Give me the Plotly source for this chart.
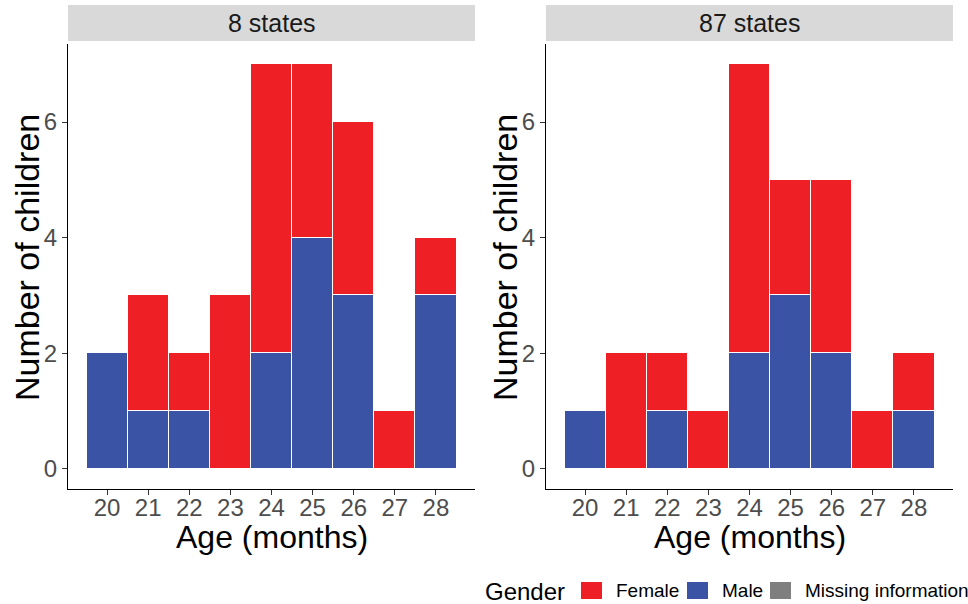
import plotly.graph_objects as go

ages = [20, 21, 22, 23, 24, 25, 26, 27, 28]
panels = ["8 states", "87 states"]

male_8 = [2, 1, 1, 0, 2, 4, 3, 0, 3]
female_8 = [0, 2, 1, 3, 5, 3, 3, 1, 1]
male_87 = [1, 0, 1, 0, 2, 3, 2, 0, 1]
female_87 = [0, 2, 1, 1, 5, 2, 3, 1, 1]

y_ticks = [0, 2, 4, 6]

legend_title = "Gender"
legend_labels = ["Female", "Male", "Missing information"]

RED = "#EE1F25"
BLUE = "#3A53A4"
GREY = "#7F7F7F"
legend_colors = [RED, BLUE, GREY]

W, H = 968, 604
FONT = "Liberation Sans, Arial, sans-serif"


def px_x(p):
    return p / W


def px_y(p):
    return 1 - p / H


fig = go.Figure()

series = [
    ("x", "y", male_8, female_8),
    ("x2", "y2", male_87, female_87),
]
for xa, ya, male, female in series:
    fig.add_trace(go.Bar(x=ages, y=male, name="Male",
                         marker=dict(color=BLUE, line=dict(color="white", width=1)),
                         width=1, xaxis=xa, yaxis=ya, showlegend=False))
    fig.add_trace(go.Bar(x=ages, y=female, name="Female",
                         marker=dict(color=RED, line=dict(color="white", width=1)),
                         width=1, xaxis=xa, yaxis=ya, showlegend=False))

ydom = [px_y(489), px_y(44)]
axis_common = dict(showline=True, linecolor="black", linewidth=1.2, ticks="outside", ticklen=5,
                   tickcolor="#333333", tickfont=dict(size=24, color="#4d4d4d", family=FONT),
                   showgrid=False, zeroline=False)
xcommon = dict(axis_common, range=[19.05, 28.95], tickvals=ages, ticktext=[str(a) for a in ages],
               ticklabelstandoff=-8)
ycommon = dict(axis_common, range=[-0.35, 7.35], tickvals=y_ticks)

fig.update_layout(
    width=W, height=H,
    margin=dict(l=0, r=0, t=0, b=0, autoexpand=False),
    paper_bgcolor="white", plot_bgcolor="white",
    barmode="stack", bargap=0,
    font=dict(family=FONT),
    showlegend=False,
    xaxis=dict(xcommon, domain=[px_x(68), px_x(475)], anchor="y"),
    yaxis=dict(ycommon, domain=ydom, anchor="x"),
    xaxis2=dict(xcommon, domain=[px_x(546), px_x(953)], anchor="y2"),
    yaxis2=dict(ycommon, domain=ydom, anchor="x2"),
)

shapes = []
annotations = []

# facet strips and axis titles
for (x0, x1), label in zip([(68, 475), (546, 953)], panels):
    shapes.append(dict(type="rect", xref="paper", yref="paper", x0=px_x(x0), x1=px_x(x1),
                       y0=px_y(41), y1=px_y(5), fillcolor="#D9D9D9", line=dict(width=0)))
    annotations.append(dict(text=label, xref="paper", yref="paper", x=px_x((x0 + x1) / 2), y=px_y(23),
                            showarrow=False, font=dict(size=25, color="#1a1a1a", family=FONT),
                            xanchor="center", yanchor="middle"))
    annotations.append(dict(text="Age (months)", xref="paper", yref="paper", x=px_x((x0 + x1) / 2),
                            y=px_y(537), showarrow=False,
                            font=dict(size=32, color="black", family=FONT),
                            xanchor="center", yanchor="middle"))
for xc in (27, 505):
    annotations.append(dict(text="Number of children", xref="paper", yref="paper", x=px_x(xc), y=px_y(258),
                            showarrow=False, textangle=-90,
                            font=dict(size=34, color="black", family=FONT),
                            xanchor="center", yanchor="middle"))

# legend drawn as keys + labels along the bottom
legend_y = 591
annotations.append(dict(text=legend_title, xref="paper", yref="paper", x=px_x(483), y=px_y(legend_y),
                        showarrow=False, font=dict(size=24, color="black", family=FONT),
                        xanchor="left", yanchor="middle"))
key_x = [581, 687, 770]
for kx, label, color in zip(key_x, legend_labels, legend_colors):
    shapes.append(dict(type="rect", xref="paper", yref="paper", x0=px_x(kx), x1=px_x(kx + 21),
                       y0=px_y(599), y1=px_y(582), fillcolor=color, line=dict(width=0)))
    annotations.append(dict(text=label, xref="paper", yref="paper", x=px_x(kx + 33), y=px_y(legend_y - 1),
                            showarrow=False, font=dict(size=19, color="black", family=FONT),
                            xanchor="left", yanchor="middle"))

fig.update_layout(shapes=shapes, annotations=annotations)
fig.write_html("out.html")
